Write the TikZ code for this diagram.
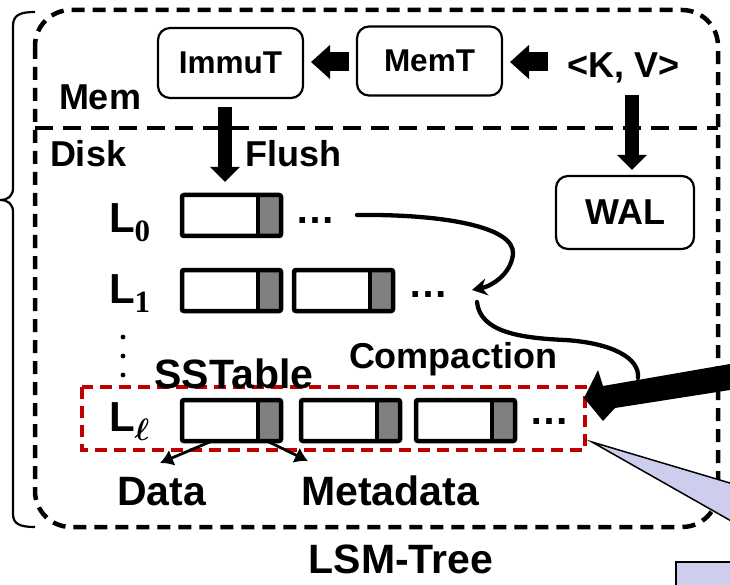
\RequirePackage{fix-cm}
\documentclass[tikz,border=0pt]{standalone}
\usepackage[no-math]{fontspec}
\setmainfont{Liberation Sans}
\newfontfamily\subserif{Liberation Serif}
\usetikzlibrary{arrows.meta}
\definecolor{lavender}{HTML}{CDCDEE}
\definecolor{metagray}{HTML}{808080}
\definecolor{darkred}{HTML}{C00000}
\newcommand{\fsz}[1]{\fontsize{#1}{#1}\selectfont}
\newcommand{\levsub}[1]{\raisebox{-9pt}{\fsz{31}\subserif\bfseries #1}}
\newcommand{\levsubell}{\raisebox{-9pt}{\fsz{31}\boldmath$\ell$}}

\begin{document}
\begin{tikzpicture}[x=1pt,y=-1pt,
  every node/.style={inner sep=0pt, outer sep=0pt, font=\bfseries},
  membox/.style={draw, line width=2.2pt, rounded corners=12pt, font=\bfseries\fsz{31.5}},
  lbl/.style={font=\bfseries\fsz{36}},
  biglbl/.style={font=\bfseries\fsz{41}},
  levlbl/.style={font=\bfseries\fsz{42}, anchor=base west},
  blockarrow/.style={line width=19pt, -{Triangle[length=19pt,width=33pt]}},
  vblockarrow/.style={line width=14pt, -{Triangle[length=15pt,width=29pt]}},
  sst/.style={draw, line width=4.5pt, rounded corners=2pt, minimum width=99pt, minimum height=41pt, anchor=north west,
    path picture={
      \fill[metagray] ([xshift=-23pt]path picture bounding box.north east) rectangle (path picture bounding box.south east);
      \draw[line width=3.5pt] ([xshift=-23pt]path picture bounding box.north east) -- ([xshift=-23pt]path picture bounding box.south east);
    }},
  hdots/.style={font=\bfseries\fsz{40}, anchor=base},
  thinarrow/.style={line width=2.8pt, -{Latex[length=13pt,width=17pt]}},
  compcurve/.style={line width=4.3pt, line cap=round},
]
\useasboundingbox (0,0) rectangle (730,585);
\clip (0,0) rectangle (730,585);

% LSM-tree frame, memory/disk divider and brace
\draw[line width=4.5pt, dash pattern=on 13pt off 8pt, rounded corners=36pt] (35,10) rectangle (718,527);
\draw[line width=3.2pt, dash pattern=on 18pt off 10pt] (35,128) -- (718,128);
\draw[line width=2.2pt] (35,12) .. controls (20,12) and (13,15) .. (13,26) -- (13,188)
  .. controls (13,196) and (8,200) .. (0,200) .. controls (8,200) and (13,204) .. (13,212)
  -- (13,514) .. controls (13,524) and (20,527) .. (35,527);

% memory components
\node[membox, minimum width=145pt, minimum height=70pt] (immu) at (230.5,63) {ImmuT};
\node[membox, minimum width=145pt, minimum height=69pt] (memt) at (429.5,61) {MemT};
\node[lbl, anchor=base] (kv) at (623.5,78) {<K, V>};
\node[membox, font=\bfseries\fsz{36}, minimum width=138pt, minimum height=73pt] (wal) at (625,212.5) {WAL};

\coordinate (a1s) at (349,62); \coordinate (a1e) at (311,62);
\coordinate (a2s) at (548,62); \coordinate (a2e) at (510,62);
\draw[blockarrow] (a1s) -- (a1e);
\draw[blockarrow] (a2s) -- (a2e);
\coordinate (fs) at (225,107); \coordinate (fe) at (225,182);
\coordinate (ws) at (632,95); \coordinate (we) at (632,170);
\draw[vblockarrow] (fs) -- (fe);
\draw[vblockarrow] (ws) -- (we);

\node[lbl, anchor=base west] (mem) at (59,110) {Mem};
\node[lbl, anchor=base west] (disk) at (50,167) {Disk};
\node[lbl, anchor=base west] (flush) at (245,167) {Flush};

% levels
\node[levlbl] (l0) at (109,233) {L\levsub{0}};
\node[levlbl] (l1) at (109,303) {L\levsub{1}};
\node[levlbl] (ll) at (109,431) {L\levsubell};
\fill (123,337) circle (2.4pt) (123,356) circle (2.4pt) (123,375) circle (2.4pt);

% SSTables
\node[sst] (s00) at (182,195) {};
\node[sst] (s10) at (182,270) {};
\node[sst] (s11) at (294,270) {};
\node[sst] (s20) at (182,400) {};
\node[sst] (s21) at (301,400) {};
\node[sst] (s22) at (416,400) {};
\node[hdots] (d0) at (315,224) {…};
\node[hdots] (d1) at (428,297) {…};
\node[hdots] (d2) at (549,424) {…};

% selected level
\draw[darkred, line width=3.5pt, dash pattern=on 12pt off 7pt] (82,387) rectangle (585,450);
\node[biglbl, anchor=base] (sstl) at (234,388) {SSTable};

% compaction
\coordinate (c1s) at (357,215); \coordinate (c1e) at (472,290);
\coordinate (c2s) at (477,302); \coordinate (c2e) at (638,378);
\draw[compcurve, -{Stealth[length=15pt,width=17pt]}] (c1s) .. controls (440,214) and (515,226) .. (513,254)
  .. controls (511,274) and (492,286) .. (c1e);
\draw[compcurve] (c2s) .. controls (480,332) and (520,338) .. (565,340) .. controls (612,343) and (640,358) .. (c2e);
\node[lbl, anchor=base west] (comp) at (349,368) {Compaction};

% incoming arrow
\fill (584,398) -- (598,370) -- (603,386) -- (730,364) -- (730,390) -- (615,408) -- (603,421) -- cycle;

% data / metadata split
\node[biglbl, anchor=base] (data) at (161.5,505) {Data};
\node[biglbl, anchor=base] (meta) at (390,505) {Metadata};
\draw[thinarrow] ([xshift=30pt]s20.south west) -- (160,463);
\draw[thinarrow] ([xshift=85pt]s20.south west) -- (308,461);

\node[biglbl, anchor=base] (lsm) at (401,573) {LSM-Tree};

% zoom callout
\filldraw[fill=lavender, draw=black, line width=1.5pt, line join=miter] (592,442) -- (740,486) -- (740,526) -- cycle;
\filldraw[fill=lavender, draw=black, line width=2pt] (676,562) rectangle (745,600);
\end{tikzpicture}
\end{document}
